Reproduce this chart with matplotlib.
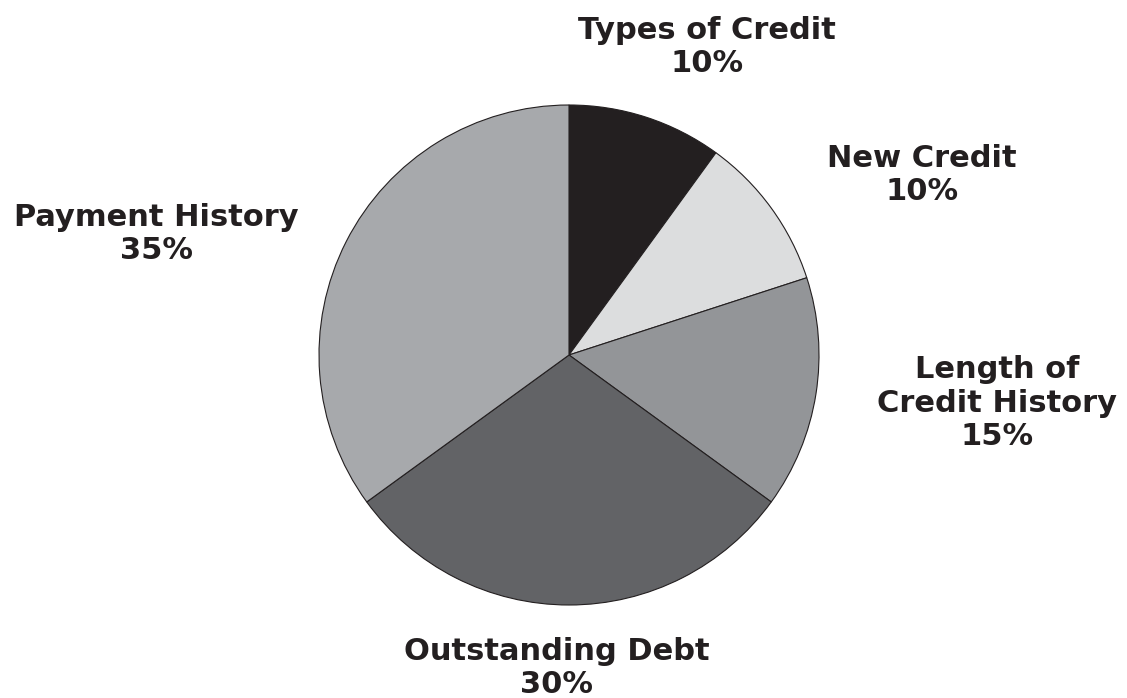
import matplotlib
matplotlib.use('Agg')
import matplotlib.pyplot as plt

labels = ['Types of Credit', 'New Credit', 'Length of\nCredit History', 'Outstanding Debt', 'Payment History']
shares = [10, 10, 15, 30, 35]
colors = ['#231f20', '#dcddde', '#939598', '#626366', '#a7a9ac']

# label anchor points in pixel space (x, y from top)
label_pos = [(707, 47), (922, 175), (997, 403), (557, 668), (156, 234)]

W, H = 1127, 698
fig = plt.figure(figsize=(W / 100, H / 100), dpi=100)
ax = fig.add_axes([0, 0, 1, 1])

ax.pie(shares, colors=colors, startangle=90, counterclock=False,
       center=(569, H - 355), radius=250, frame=True,
       wedgeprops=dict(edgecolor='#231f20', linewidth=0.8))
ax.set_xlim(0, W)
ax.set_ylim(0, H)
ax.set_aspect('equal')
ax.axis('off')

for lab, val, (x, y) in zip(labels, shares, label_pos):
    ax.text(x, H - y, '%s\n%d%%' % (lab, val), ha='center', va='center',
            fontsize=22, fontweight='bold', family='DejaVu Sans',
            color='#231f20', linespacing=1.2)

fig.savefig('out.png', dpi=100)
